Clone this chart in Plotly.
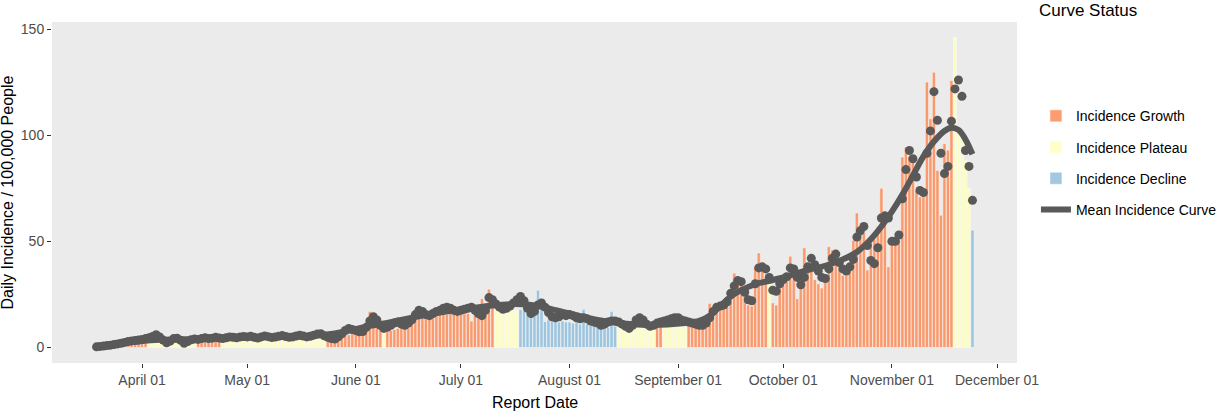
import pandas as pd
import plotly.graph_objects as go

# first report date; one bar per day after it
start_date = "2020-03-19"

status_names = ["Incidence Growth", "Incidence Plateau", "Incidence Decline"]
status_colors = ["#FC8D59", "#FFFFBF", "#91BFDB"]
# (status index, number of consecutive days)
status_runs = [(0, 15), (1, 14), (0, 7), (1, 30), (0, 16), (1, 1), (0, 31), (1, 7),
               (2, 28), (1, 11), (0, 2), (1, 7), (0, 23), (1, 1), (0, 52), (1, 5), (2, 1)]

# daily incidence per 100,000 (bars)
daily_incidence = [
    # Mar 19 - Mar 31
    0.2, 0.3, 0.4, 0.6, 0.8, 1.0, 1.2, 1.5, 1.8, 2.0, 2.2, 2.5, 2.6,
    # April
    2.4, 2.7, 2.9, 3.4, 4.6, 3.2, 2.3, 1.8, 2.2, 2.9, 3.0, 2.4, 1.7, 2.1, 2.6,
    2.8, 2.9, 3.0, 3.3, 3.0, 3.1, 3.4, 3.2, 3.0, 3.2, 3.5, 3.3, 3.2, 3.5, 3.6,
    # May
    3.6, 3.8, 3.4, 3.2, 3.6, 3.9, 3.7, 3.4, 3.5, 3.8, 4.0, 3.8, 3.5, 3.6, 3.9, 4.2,
    3.9, 3.6, 3.8, 4.2, 4.5, 4.6, 4.0, 3.5, 3.8, 4.2, 5.5, 6.0, 6.2, 6.0, 6.5,
    # June
    6.5, 6.0, 6.8, 9.0, 17.0, 12.0, 11.0, 11.5, 10.0, 7.5, 8.0, 8.5, 9.0, 10.5, 11.0,
    12.0, 12.5, 13.0, 14.5, 14.8, 14.5, 14.8, 15.0, 15.5, 15.8, 16.0, 15.5, 16.0, 16.2, 16.0,
    # July
    16.2, 15.8, 16.0, 12.5, 16.5, 18.0, 23.0, 20.5, 27.5, 21.0, 19.5, 19.0, 18.5, 18.0, 17.0,
    17.5, 17.5, 18.0, 17.5, 15.5, 15.0, 15.5, 27.0, 19.3, 12.2, 13.0, 12.5, 12.8, 12.0, 12.5, 12.0,
    # August
    12.0, 11.5, 12.0, 11.0, 18.0, 11.0, 10.5, 10.5, 10.0, 10.5, 10.0, 9.5, 17.0, 10.0, 9.5,
    9.0, 9.5, 9.0, 8.5, 9.0, 9.5, 9.0, 9.5, 9.0, 9.5, 10.5, 11.0, 10.0, 10.5, 10.0, 10.5,
    # September
    10.0, 10.0, 9.8, 11.0, 11.5, 11.0, 11.5, 11.0, 12.0, 20.8, 18.0, 18.5, 19.0, 19.5, 20.0,
    21.0, 35.0, 32.0, 30.0, 28.0, 20.0, 19.5, 38.0, 44.5, 40.0, 30.0, 30.0, 21.0, 20.0, 30.0,
    # October
    30.5, 31.0, 43.0, 33.0, 23.0, 35.0, 47.0, 40.0, 38.0, 32.0, 30.0, 28.0, 31.0, 47.5, 46.0,
    45.0, 36.5, 34.0, 34.0, 40.0, 50.5, 63.4, 55.0, 54.0, 36.5, 50.5, 51.0, 57.0, 75.0, 60.0, 38.0,
    # November 1 - 24
    52.0, 50.0, 51.0, 89.7, 94.4, 90.0, 88.0, 74.0, 71.0, 71.0, 125.0, 107.7, 129.6, 83.4,
    62.3, 96.0, 93.0, 125.7, 146.0, 103.0, 100.0, 88.0, 75.0, 55.3,
]

# daily points (grey dots)
daily_points = [
    0.3, 0.5, 0.7, 0.9, 1.1, 1.4, 1.7, 2.0, 2.4, 2.8, 3.1, 3.3, 3.5,
    3.8, 4.2, 4.6, 5.2, 6.0, 5.0, 3.5, 2.2, 3.0, 4.2, 4.4, 3.4, 2.0, 2.8, 3.6,
    4.0, 3.8, 4.2, 4.6, 4.2, 4.4, 4.8, 4.5, 4.2, 4.6, 5.0, 4.8, 4.6, 5.0, 5.2,
    5.0, 5.3, 4.8, 4.5, 5.0, 5.4, 5.1, 4.7, 4.9, 5.3, 5.6, 5.2, 4.8, 5.0, 5.4, 5.8,
    5.4, 5.0, 5.3, 5.8, 6.3, 6.5, 5.5, 4.8, 4.2, 4.0, 5.0, 6.5, 8.0, 9.0, 8.5,
    8.0, 7.4, 7.5, 9.5, 12.5, 14.5, 13.0, 10.5, 9.0, 9.5, 10.5, 11.5, 12.0, 11.0, 10.5,
    11.5, 13.0, 15.5, 17.5, 17.0, 15.5, 15.0, 16.0, 17.0, 17.5, 18.5, 19.0, 18.5, 17.5, 17.0,
    17.5, 18.0, 18.5, 19.0, 17.5, 16.0, 15.0, 17.5, 23.5, 22.5, 20.5, 19.0, 18.0, 18.5, 19.5,
    21.0, 22.5, 24.0, 22.0, 18.5, 16.0, 17.0, 20.0, 21.0, 19.0, 16.5, 14.5, 14.0, 14.5, 15.5, 15.0,
    15.5, 15.0, 14.0, 13.5, 14.0, 13.5, 12.5, 12.0, 11.5, 10.5, 11.0, 12.0, 12.5, 12.5, 12.0,
    11.0, 10.0, 9.0, 10.5, 13.0, 14.0, 13.0, 11.0, 10.0, 10.5, 11.5, 12.0, 12.5, 13.0, 13.5, 14.0,
    14.0, 13.0, 12.5, 12.0, 11.5, 11.0, 10.5, 10.5, 11.5, 14.0, 17.0, 19.0, 19.5, 20.0, 21.5,
    25.5, 29.0, 31.5, 31.0, 26.0, 22.5, 22.0, 30.0, 37.5, 38.0, 37.0, 33.0, 27.0, 26.5, 30.0,
    32.0, 33.3, 37.5, 37.0, 33.0, 29.5, 33.0, 38.0, 42.0, 39.0, 36.0, 33.0, 32.5, 37.0, 42.0,
    44.0, 40.0, 37.0, 36.0, 38.0, 41.5, 52.0, 55.0, 57.0, 48.0, 41.0, 39.5, 47.0, 61.0, 62.0, 61.0,
    50.0, 50.0, 53.0, 70.0, 83.8, 92.8, 88.9, 80.3, 74.0, 73.0, 91.5, 102.0, 120.5, 107.0,
    91.5, 81.9, 85.3, 106.6, 121.8, 126.0, 118.3, 92.8, 85.3, 69.3,
]

# smoothed mean incidence curve, read at a few dates
curve_dates = ["2020-03-19", "2020-03-24", "2020-03-29", "2020-04-01", "2020-04-06",
               "2020-04-11", "2020-04-16", "2020-04-21", "2020-04-26", "2020-05-01",
               "2020-05-06", "2020-05-11", "2020-05-16", "2020-05-21", "2020-05-26",
               "2020-05-31", "2020-06-05", "2020-06-10", "2020-06-15", "2020-06-20",
               "2020-06-25", "2020-06-30", "2020-07-05", "2020-07-10", "2020-07-15",
               "2020-07-20", "2020-07-25", "2020-07-30", "2020-08-04", "2020-08-09",
               "2020-08-14", "2020-08-19", "2020-08-24", "2020-08-29", "2020-09-03",
               "2020-09-07", "2020-09-10", "2020-09-13", "2020-09-16", "2020-09-19",
               "2020-09-23", "2020-09-28", "2020-10-03", "2020-10-08", "2020-10-13",
               "2020-10-18", "2020-10-22", "2020-10-26", "2020-10-29", "2020-11-01",
               "2020-11-04", "2020-11-07", "2020-11-10", "2020-11-13", "2020-11-16",
               "2020-11-18", "2020-11-20", "2020-11-22", "2020-11-24"]
curve_values = [0.3, 1.5, 2.6, 3.1, 3.6, 3.8, 4.0, 4.2, 4.5, 4.7,
                4.9, 5.1, 5.3, 5.7, 6.6, 8.3, 10.2, 11.6, 13.3, 15.0,
                16.5, 17.8, 18.8, 19.8, 20.4, 20.2, 18.8, 16.8, 14.8, 13.0,
                11.8, 11.0, 10.6, 10.8, 11.5, 12.5, 15.0, 19.5, 24.0, 27.0,
                29.8, 31.8, 34.0, 36.5, 38.5, 41.5, 45.0, 51.0, 57.0, 64.0,
                72.0, 81.0, 90.0, 97.0, 102.0, 103.5, 102.5, 98.0, 91.0]

dates = pd.date_range(start_date, periods=len(daily_incidence), freq="D")
status = []
for idx, n in status_runs:
    status += [idx] * n

fig = go.Figure()

for i, name in enumerate(status_names):
    xs = [d for d, s in zip(dates, status) if s == i]
    ys = [v for v, s in zip(daily_incidence, status) if s == i]
    fig.add_trace(go.Bar(
        x=xs, y=ys, name=name, legendgroup=name, opacity=0.85,
        marker=dict(color=status_colors[i], line=dict(color="white", width=0.5)),
    ))

fig.add_trace(go.Scatter(
    x=dates, y=daily_points, mode="markers", showlegend=False,
    marker=dict(size=9, color="#595959"),
))

fig.add_trace(go.Scatter(
    x=curve_dates, y=curve_values, mode="lines", name="Mean Incidence Curve",
    legendgroup="curve", line=dict(color="#595959", width=6, shape="spline"),
))

fig.update_layout(
    width=1228, height=411,
    margin=dict(l=52, r=211, t=22, b=48),
    plot_bgcolor="#EBEBEB", paper_bgcolor="white",
    barmode="overlay", bargap=0.08,
    font=dict(family="Liberation Sans, Arial, sans-serif", color="black"),
    legend=dict(xref="container", yref="container", x=0.8436, y=0.604,
                xanchor="left", yanchor="middle",
                font=dict(size=14), traceorder="grouped", tracegroupgap=10),
    annotations=[
        dict(text="Curve Status", xref="paper", yref="paper",
             x=1.0207, y=1.035, xanchor="left", yanchor="middle",
             showarrow=False, font=dict(size=17)),
        dict(text="Report Date", xref="paper", yref="paper",
             x=0.5, y=-0.117, xanchor="center", yanchor="middle",
             showarrow=False, font=dict(size=16)),
        dict(text="Daily Incidence / 100,000 People", xref="paper", yref="paper",
             x=-0.0456, y=0.5, xanchor="center", yanchor="middle", textangle=-90,
             showarrow=False, font=dict(size=16)),
    ],
)

fig.update_xaxes(
    type="date", range=["2020-03-06 07:00", "2020-12-06 17:00"],
    tick0="2020-04-01", dtick="M1", tickformat="%B %d",
    ticks="outside", ticklen=4, tickcolor="#333333",
    tickfont=dict(size=14, color="#4D4D4D"),
    showgrid=False, zeroline=False, automargin=False,
)
fig.update_yaxes(
    range=[-7.3, 153.3], tickvals=[0, 50, 100, 150],
    ticks="outside", ticklen=4, tickcolor="#333333",
    tickfont=dict(size=14, color="#4D4D4D"),
    showgrid=False, zeroline=False, automargin=False,
)

# drop the default 8px page margin so the figure sits at the window corner
fig.write_html("out.html", config={"displayModeBar": False},
               post_script="document.body.style.margin = '0';")
